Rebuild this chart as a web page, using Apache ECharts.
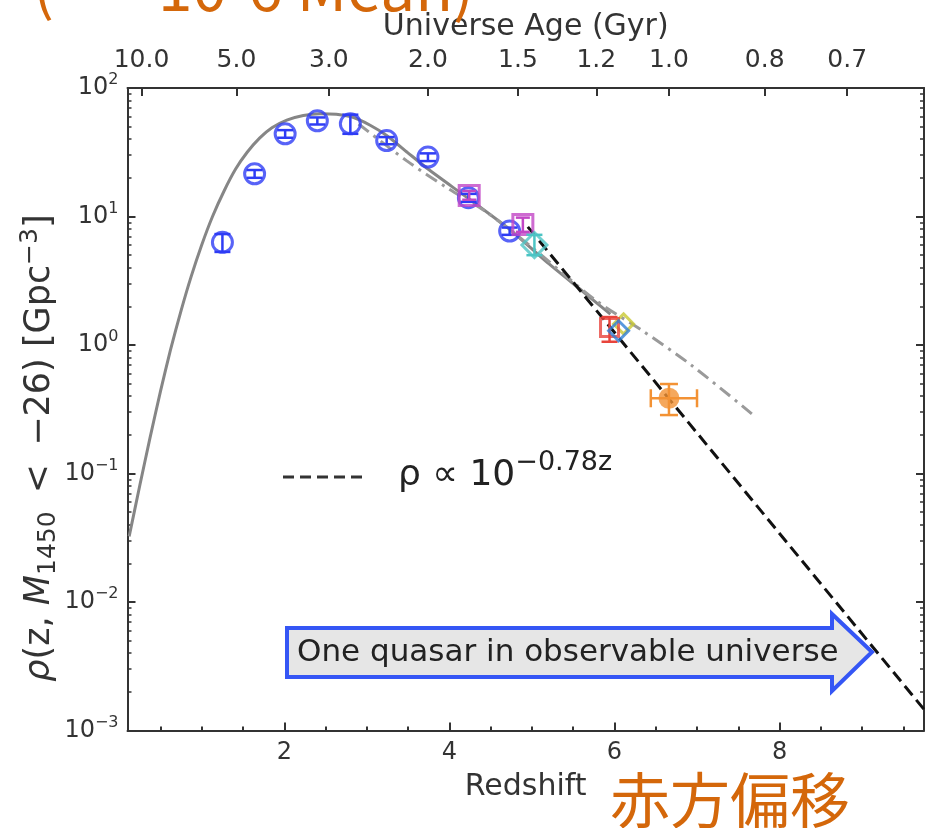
<!DOCTYPE html>
<html><head><meta charset="utf-8">
<script src="https://cdn.jsdelivr.net/npm/echarts@6/dist/echarts.min.js"></script>
<style>html,body{margin:0;padding:0;background:#fff}#c{width:926px;height:828px}</style>
</head><body><div id="c"></div>
<script>
// ---------- axes ----------
const X_MIN = 0.1, X_MAX = 9.75;
const Y_MIN = 0.001, Y_MAX = 100;
const redshiftTicks = [2, 4, 6, 8];
const redshiftMinorTicks = [0.5,1,1.5,2.5,3,3.5,4.5,5,5.5,6.5,7,7.5,8.5,9,9.5];
const ageTickZ = [0.27, 1.42, 2.54, 3.74, 4.83, 5.78, 6.66, 7.82, 8.82];
const ageTickLabels = ['10.0','5.0','3.0','2.0','1.5','1.2','1.0','0.8','0.7'];
const rhoMajorTicks = [0.001, 0.01, 0.1, 1, 10, 100];
const rhoMinorTicks = [];
[0.001,0.01,0.1,1,10].forEach(d => { for (let k = 2; k <= 9; k++) rhoMinorTicks.push(+(d*k).toPrecision(3)); });

// ---------- data ----------
const blueZ   = [1.25, 1.64, 2.01, 2.40, 2.80, 3.24, 3.74, 4.23, 4.73];
const blueRho = [6.3, 21.5, 44, 55.6, 52.6, 39, 29, 14, 7.7];
const blueLo  = [5.3, 20, 41, 52, 44, 36.5, 27, 13, 7.2];
const blueHi  = [7.3, 23, 47, 59, 62, 41.5, 31, 15, 8.2];

const magZ = [4.24, 4.89], magRho = [14.6, 8.65], magLo = [13.5, 7.6], magHi = [15.8, 9.8];
const cyanZ = [5.03], cyanRho = [6.0], cyanLo = [5.0], cyanHi = [7.2];
const redZ = [5.94], redRho = [1.37], redLo = [1.06], redHi = [1.65];
const steelZ = [6.05], steelRho = [1.29];
const yellowZ = [6.11], yellowRho = [1.46];
const orangeZ = [6.66], orangeRho = [0.385], orangeLo = [0.285], orangeHi = [0.497];
const orangeZLo = [6.44], orangeZHi = [7.0];

// model curves
const modelZ   = [0.12, 0.25, 0.37, 0.5, 0.62, 0.75, 0.87, 1.0, 1.13, 1.27, 1.41, 1.55, 1.7, 1.85, 2.03, 2.23, 2.43, 2.63, 2.84, 3.04, 3.24, 3.49, 3.74, 4.23, 4.73, 5.17, 5.61, 5.95];
const modelRho = [0.0324, 0.0813, 0.186, 0.437, 0.912, 1.86, 3.39, 6.03, 10.0, 15.8, 23.4, 31.6, 40.7, 49.0, 56.2, 61.0, 63.1, 62.4, 58.9, 51.3, 42.7, 31.6, 23.4, 13.8, 7.94, 4.47, 2.63, 1.74];
const dashDotZ   = [2.9, 3.48, 3.96, 4.45, 5.0, 5.78, 6.34, 6.94, 7.69];
const dashDotRho = [52.5, 27.2, 16.9, 10.8, 5.75, 2.21, 1.29, 0.69, 0.282];
const powerZ   = [4.95, 9.75];
const powerRho = [8.3, 0.00146];

const zip = (a, b) => a.map((v, i) => [v, b[i]]);
const zip3 = (a, b, c) => a.map((v, i) => [v, b[i], c[i]]);

const FONT = 'DejaVu Sans';
const AX = '#333';

function vErr(color, cap, lw) {
  return function (params, api) {
    const x = api.value(0), lo = api.value(1), hi = api.value(2);
    const a = api.coord([x, lo]), b = api.coord([x, hi]);
    const st = { stroke: color, lineWidth: lw };
    return { type: 'group', children: [
      { type: 'line', shape: { x1: a[0], y1: a[1], x2: b[0], y2: b[1] }, style: st },
      { type: 'line', shape: { x1: a[0]-cap, y1: a[1], x2: a[0]+cap, y2: a[1] }, style: st },
      { type: 'line', shape: { x1: b[0]-cap, y1: b[1], x2: b[0]+cap, y2: b[1] }, style: st }
    ]};
  };
}
function hErr(color, cap, lw) {
  return function (params, api) {
    const lo = api.value(0), hi = api.value(1), y = api.value(2);
    const a = api.coord([lo, y]), b = api.coord([hi, y]);
    const st = { stroke: color, lineWidth: lw };
    return { type: 'group', children: [
      { type: 'line', shape: { x1: a[0], y1: a[1], x2: b[0], y2: b[1] }, style: st },
      { type: 'line', shape: { x1: a[0], y1: a[1]-cap, x2: a[0], y2: a[1]+cap }, style: st },
      { type: 'line', shape: { x1: b[0], y1: b[1]-cap, x2: b[0], y2: b[1]+cap }, style: st }
    ]};
  };
}
function errSeries(z, lo, hi, color, cap, zl) {
  return { type: 'custom', xAxisIndex: 0, yAxisIndex: 0, renderItem: vErr(color, cap, 2.5),
    data: zip3(z, lo, hi), encode: { x: 0, y: [1, 2] }, z: zl, silent: true };
}
function markSeries(z, v, symbol, size, color, zl, filled) {
  return { type: 'scatter', xAxisIndex: 0, yAxisIndex: 0, data: zip(z, v), symbol, symbolSize: size, z: zl,
    itemStyle: filled ? { color } : { color: 'rgba(0,0,0,0)', borderColor: color, borderWidth: 3 } };
}

const supRich = {
  b: { fontSize: 24, fontFamily: FONT, color: AX },
  s: { fontSize: 16, fontFamily: FONT, color: AX, padding: [0, 0, 16, 0] }
};
function pow10Label(v) {
  const e = Math.round(Math.log10(v));
  return '{b|10}{s|' + (e < 0 ? '\u2212' + (-e) : e) + '}';
}
function ageLabel(v) {
  let best = 0;
  ageTickZ.forEach((z, i) => { if (Math.abs(z - v) < Math.abs(ageTickZ[best] - v)) best = i; });
  return ageTickLabels[best];
}

const lineAx = { show: true, lineStyle: { color: AX, width: 2 } };

const option = {
  backgroundColor: '#fff',
  animation: false,
  grid: { left: 127.5, right: 2, top: 88, bottom: 97.5, outerBoundsMode: 'none' },
  xAxis: [
    { type: 'value', position: 'bottom', min: X_MIN, max: X_MAX,
      axisLine: Object.assign({ onZero: false }, lineAx),
      axisTick: { inside: true, length: 8, customValues: redshiftTicks, lineStyle: { color: AX, width: 2 } },
      axisLabel: { customValues: redshiftTicks, fontSize: 24, fontFamily: FONT, color: AX, margin: 10 },
      splitLine: { show: false },
      name: 'Redshift', nameLocation: 'middle', nameGap: 42,
      nameTextStyle: { fontSize: 30, fontFamily: FONT, color: AX } },
    { type: 'value', position: 'bottom', min: X_MIN, max: X_MAX,
      axisLine: { show: false, onZero: false },
      axisTick: { inside: true, length: 4, customValues: redshiftMinorTicks, lineStyle: { color: AX, width: 2 } },
      axisLabel: { show: false }, splitLine: { show: false } },
    { type: 'value', position: 'top', min: X_MIN, max: X_MAX,
      axisLine: Object.assign({ onZero: false }, lineAx),
      axisTick: { inside: true, length: 8, customValues: ageTickZ, lineStyle: { color: AX, width: 2 } },
      axisLabel: { customValues: ageTickZ, formatter: ageLabel, fontSize: 25, fontFamily: FONT, color: AX, margin: 15 },
      splitLine: { show: false },
      name: 'Universe Age (Gyr)', nameLocation: 'middle', nameGap: 46,
      nameTextStyle: { fontSize: 30, fontFamily: FONT, color: AX } }
  ],
  yAxis: [
    { type: 'log', logBase: 10, position: 'left', min: Y_MIN, max: Y_MAX,
      axisLine: Object.assign({ onZero: false }, lineAx),
      axisTick: { inside: true, length: 8, customValues: rhoMajorTicks, lineStyle: { color: AX, width: 2 } },
      axisLabel: { customValues: rhoMajorTicks, formatter: pow10Label, rich: supRich, margin: 9 },
      splitLine: { show: false } },
    { type: 'log', logBase: 10, position: 'left', min: Y_MIN, max: Y_MAX,
      axisLine: { show: false, onZero: false },
      axisTick: { inside: true, length: 4, customValues: rhoMinorTicks, lineStyle: { color: AX, width: 1.5 } },
      axisLabel: { show: false }, splitLine: { show: false } },
    { type: 'log', logBase: 10, position: 'right', min: Y_MIN, max: Y_MAX,
      axisLine: Object.assign({ onZero: false }, lineAx),
      axisTick: { inside: true, length: 8, customValues: rhoMajorTicks, lineStyle: { color: AX, width: 2 } },
      axisLabel: { show: false }, splitLine: { show: false } },
    { type: 'log', logBase: 10, position: 'right', min: Y_MIN, max: Y_MAX,
      axisLine: { show: false, onZero: false },
      axisTick: { inside: true, length: 4, customValues: rhoMinorTicks, lineStyle: { color: AX, width: 1.5 } },
      axisLabel: { show: false }, splitLine: { show: false } }
  ],
  series: [
    { type: 'line', data: zip(modelZ, modelRho), smooth: 0.2, showSymbol: false, z: 2,
      lineStyle: { color: '#868686', width: 3 } },
    { type: 'line', data: zip(dashDotZ, dashDotRho), smooth: 0.3, showSymbol: false, z: 2,
      lineStyle: { color: '#9a9a9a', width: 3, type: [13, 6, 3, 6] } },
    { type: 'line', data: zip(powerZ, powerRho), showSymbol: false, z: 3,
      lineStyle: { color: '#111', width: 3, type: [12, 6] } },

    markSeries(yellowZ, yellowRho, 'diamond', 20, '#c8c832', 4, false),
    errSeries(redZ, redLo, redHi, '#e8443c', 8, 5),
    markSeries(redZ, redRho, 'rect', 18, '#e8443c', 5, false),
    markSeries(steelZ, steelRho, 'diamond', 20, '#2f7fd6', 6, false),

    errSeries(blueZ, blueLo, blueHi, '#2e3cf5', 8, 7),
    markSeries(blueZ, blueRho, 'circle', 20, '#2e3cf5', 7, false),
    errSeries(magZ, magLo, magHi, '#c246c6', 7, 8),
    markSeries(magZ, magRho, 'rect', 20, '#c246c6', 8, false),
    errSeries(cyanZ, cyanLo, cyanHi, '#4cc4c4', 8, 9),
    markSeries(cyanZ, cyanRho, 'diamond', 25, '#4cc4c4', 9, false),

    errSeries(orangeZ, orangeLo, orangeHi, '#f39234', 9, 10),
    { type: 'custom', renderItem: hErr('#f39234', 9, 2.5), data: [[orangeZLo[0], orangeZHi[0], orangeRho[0]]],
      encode: { x: [0, 1], y: 2 }, z: 10, silent: true },
    markSeries(orangeZ, orangeRho, 'circle', 21, '#f39234', 10, true)
  ],
  graphic: [
    // y-axis title
    { type: 'text', x: 40, y: 448, rotation: Math.PI / 2, z: 20,
      style: { text: '{i|\u03c1}(z, {i|M}{sub|1450} \u2009<\u2009 \u221226) [Gpc{sup|\u22123}]',
        fontSize: 35, fontFamily: FONT, fill: AX, align: 'center', verticalAlign: 'middle',
        rich: {
          i: { fontStyle: 'italic', fontSize: 35, fontFamily: FONT, color: AX },
          sub: { fontSize: 25, fontFamily: FONT, color: AX, padding: [16, 0, 0, 0] },
          sup: { fontSize: 25, fontFamily: FONT, color: AX, padding: [0, 0, 20, 0] }
        } } },
    // legend line + formula
    { type: 'line', shape: { x1: 283, y1: 477, x2: 366, y2: 477 }, z: 20,
      style: { stroke: '#333', lineWidth: 3, lineDash: [11, 6] } },
    { type: 'text', x: 398, y: 476, z: 20,
      style: { text: '\u03c1 \u221d 10{s|\u22120.78z}', fontSize: 36, fontFamily: FONT, fill: '#222',
        align: 'left', verticalAlign: 'middle',
        rich: { s: { fontSize: 27, fontFamily: FONT, color: '#222', padding: [0, 0, 26, 0] } } } },
    // arrow annotation
    { type: 'polygon', z: 20,
      shape: { points: [[287, 628], [832, 628], [832, 614], [872, 652], [832, 691], [832, 677], [287, 677]] },
      style: { fill: '#e6e6e6', stroke: '#3556f5', lineWidth: 4 } },
    { type: 'text', x: 297, y: 653, z: 21,
      style: { text: 'One quasar in observable universe', fontSize: 31, fontFamily: FONT, fill: '#222',
        align: 'left', verticalAlign: 'middle' } },
    // orange overlays
    { type: 'text', x: 730, y: 800, z: 20,
      style: { text: '赤方偏移', fontSize: 60, fontFamily: 'Noto Sans CJK JP', fill: '#d4670a',
        align: 'center', verticalAlign: 'middle' } },
    { type: 'text', x: 33, y: -15, z: 20,
      style: { text: '(', fontSize: 62, fontFamily: 'Noto Sans CJK JP', fill: '#d4670a', align: 'left', verticalAlign: 'middle' } },
    { type: 'text', x: 158, y: -13, z: 20,
      style: { text: '10-6 Mean)', fontSize: 62, fontFamily: 'Noto Sans CJK JP', fill: '#d4670a', align: 'left', verticalAlign: 'middle' } }
  ]
};

const chart = echarts.init(document.getElementById('c'), null, { renderer: 'canvas' });
chart.setOption(option);
</script>
</body></html>
